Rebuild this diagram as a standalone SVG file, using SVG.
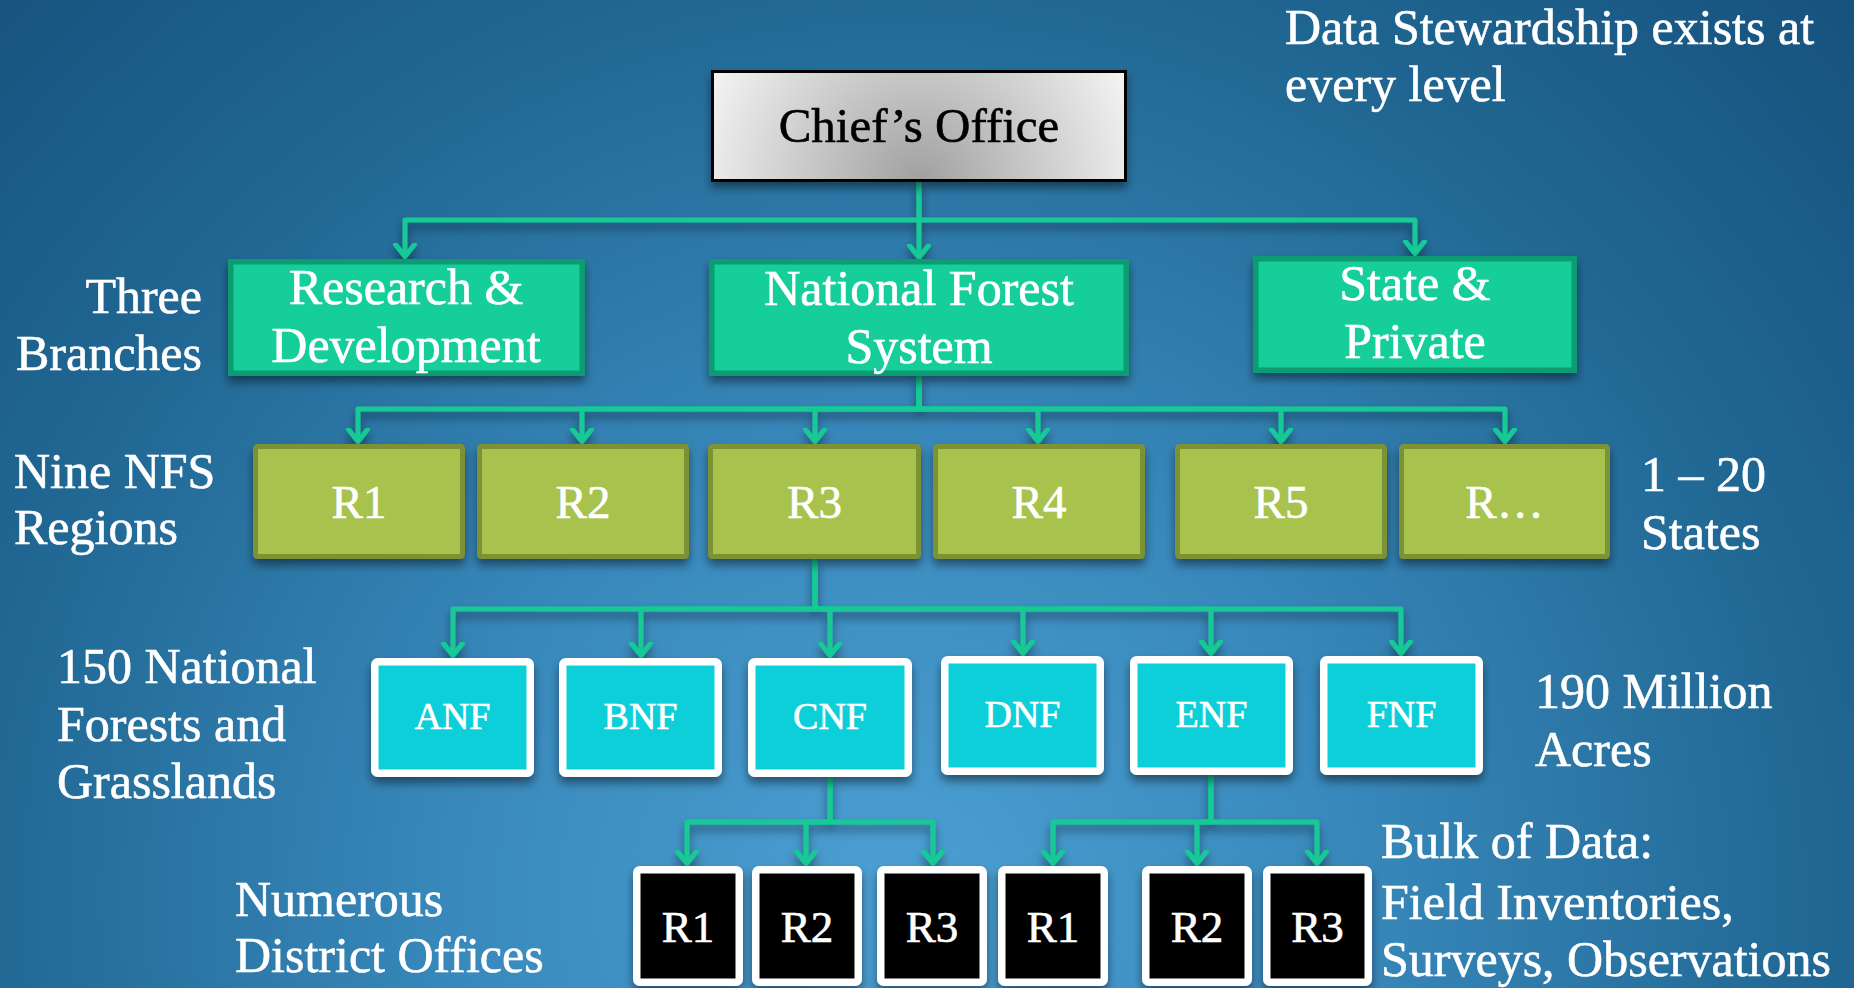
<svg xmlns="http://www.w3.org/2000/svg" width="1854" height="988" viewBox="0 0 1854 988">
<defs>
<radialGradient id="bg" gradientUnits="userSpaceOnUse" cx="900" cy="900" r="1300">
<stop offset="0" stop-color="#4CA0D3"/>
<stop offset="0.35" stop-color="#3888BB"/>
<stop offset="0.7" stop-color="#216894"/>
<stop offset="1" stop-color="#17527E"/>
</radialGradient>
<radialGradient id="chiefFill" gradientUnits="userSpaceOnUse" cx="919" cy="182" r="235">
<stop offset="0" stop-color="#A0A0A0"/>
<stop offset="1" stop-color="#F5F5F5"/>
</radialGradient>
<filter id="sh" x="-20%" y="-20%" width="140%" height="160%">
<feDropShadow dx="0" dy="6" stdDeviation="5" flood-color="#000" flood-opacity="0.45"/>
</filter>
<marker id="ah" markerUnits="userSpaceOnUse" viewBox="-14 -14 28 28" markerWidth="28" markerHeight="28" refX="0" refY="0" orient="auto">
<path d="M-12,-9.5 L0,0 L-12,9.5" fill="none" stroke="#13C995" stroke-width="5" stroke-linecap="round" stroke-linejoin="round"/>
</marker>
<style>
.conn{fill:none;stroke:#13C995;stroke-width:5;stroke-linejoin:round;marker-end:url(#ah)}
.t{font-family:"Liberation Serif","Times New Roman",serif;fill:#fff;stroke:#fff;stroke-width:0.6;font-size:50px}
.c{text-anchor:middle}
.box{filter:url(#sh)}
.br{fill:#12CE9A;stroke:#0E9C72;stroke-width:5.5}
.rg{fill:#A8C34E;stroke:#7D9236;stroke-width:5}
.nf{fill:#0DCFD9;stroke:#fff;stroke-width:7.5}
.ds{fill:#000;stroke:#fff;stroke-width:7.5}
.rt{font-size:47px}
.nt{font-size:38px}
.dt{font-size:45px}
.ct{fill:#000;stroke:#000;font-size:49px}
</style>
</defs>
<rect x="0" y="0" width="1854" height="988" fill="url(#bg)"/>

<g id="connectors" filter="url(#sh)">
<path class="conn" d="M919,182 V220 H405 V256.5"/>
<path class="conn" d="M919,182 V257.5"/>
<path class="conn" d="M919,220 H1415 V253.5"/>
<path class="conn" d="M919,376 V409 H358 V441.5"/>
<path class="conn" d="M919,376 V409 H582 V441.5"/>
<path class="conn" d="M919,376 V409 H815 V441.5"/>
<path class="conn" d="M919,376 V409 H1038 V441.5"/>
<path class="conn" d="M919,376 V409 H1281 V441.5"/>
<path class="conn" d="M919,376 V409 H1505 V441.5"/>
<path class="conn" d="M815,559 V609 H453 V655.5"/>
<path class="conn" d="M815,559 V609 H641 V655.5"/>
<path class="conn" d="M815,559 V609 H830 V655.5"/>
<path class="conn" d="M815,559 V609 H1023 V653.5"/>
<path class="conn" d="M815,559 V609 H1211 V653.5"/>
<path class="conn" d="M815,559 V609 H1401 V653.5"/>
<path class="conn" d="M830,777 V822 H687 V863.5"/>
<path class="conn" d="M830,777 V822 H806 V863.5"/>
<path class="conn" d="M830,777 V822 H933 V863.5"/>
<path class="conn" d="M1211,775 V822 H1053 V863.5"/>
<path class="conn" d="M1211,775 V822 H1197 V863.5"/>
<path class="conn" d="M1211,775 V822 H1317 V863.5"/>
</g>

<g id="chief">
<rect class="box" x="712.5" y="71.5" width="413" height="109" fill="url(#chiefFill)" stroke="#000" stroke-width="3"/>
<text class="t c ct" x="919" y="142">Chief’s Office</text>
</g>

<g id="rd">
<rect class="box br" x="230.75" y="261.75" width="351.5" height="111.5"/>
<text class="t c" x="406" y="304">Research &amp;</text>
<text class="t c" x="406" y="362">Development</text>
</g>
<g id="nfs">
<rect class="box br" x="711.75" y="261.75" width="414.5" height="111.5"/>
<text class="t c" x="919" y="305">National Forest</text>
<text class="t c" x="919" y="363">System</text>
</g>
<g id="sp">
<rect class="box br" x="1255.75" y="258.75" width="318.5" height="111.5"/>
<text class="t c" x="1415" y="300">State &amp;</text>
<text class="t c" x="1415" y="358">Private</text>
</g>

<g id="reg-r1"><rect class="box rg" x="255.5" y="446.5" width="207" height="110" rx="2"/><text class="t c rt" x="359" y="518">R1</text></g>
<g id="reg-r2"><rect class="box rg" x="479.5" y="446.5" width="207" height="110" rx="2"/><text class="t c rt" x="583" y="518">R2</text></g>
<g id="reg-r3"><rect class="box rg" x="710.5" y="446.5" width="208" height="110" rx="2"/><text class="t c rt" x="814.5" y="518">R3</text></g>
<g id="reg-r4"><rect class="box rg" x="935.5" y="446.5" width="207" height="110" rx="2"/><text class="t c rt" x="1039" y="518">R4</text></g>
<g id="reg-r5"><rect class="box rg" x="1177.5" y="446.5" width="207" height="110" rx="2"/><text class="t c rt" x="1281" y="518">R5</text></g>
<g id="reg-rn"><rect class="box rg" x="1401.5" y="446.5" width="206" height="110" rx="2"/><text class="t c rt" x="1504.5" y="518">R…</text></g>

<g id="anf"><rect class="box nf" x="374.75" y="661.75" width="155.5" height="111.5" rx="3"/><text class="t c nt" x="452.5" y="729">ANF</text></g>
<g id="bnf"><rect class="box nf" x="562.75" y="661.75" width="155.5" height="111.5" rx="3"/><text class="t c nt" x="640.5" y="729">BNF</text></g>
<g id="cnf"><rect class="box nf" x="751.75" y="661.75" width="156.5" height="111.5" rx="3"/><text class="t c nt" x="830" y="729">CNF</text></g>
<g id="dnf"><rect class="box nf" x="944.75" y="659.75" width="155.5" height="111.5" rx="3"/><text class="t c nt" x="1022.5" y="727">DNF</text></g>
<g id="enf"><rect class="box nf" x="1133.75" y="659.75" width="155.5" height="111.5" rx="3"/><text class="t c nt" x="1211.5" y="727">ENF</text></g>
<g id="fnf"><rect class="box nf" x="1323.75" y="659.75" width="155.5" height="111.5" rx="3"/><text class="t c nt" x="1401.5" y="727">FNF</text></g>

<g id="c-r1"><rect class="box ds" x="636.75" y="869.75" width="102.5" height="112.5" rx="3"/><text class="t c dt" x="688" y="942">R1</text></g>
<g id="c-r2"><rect class="box ds" x="755.75" y="869.75" width="102.5" height="112.5" rx="3"/><text class="t c dt" x="807" y="942">R2</text></g>
<g id="c-r3"><rect class="box ds" x="880.75" y="869.75" width="102.5" height="112.5" rx="3"/><text class="t c dt" x="932" y="942">R3</text></g>
<g id="e-r1"><rect class="box ds" x="1001.75" y="869.75" width="102.5" height="112.5" rx="3"/><text class="t c dt" x="1053" y="942">R1</text></g>
<g id="e-r2"><rect class="box ds" x="1145.75" y="869.75" width="102.5" height="112.5" rx="3"/><text class="t c dt" x="1197" y="942">R2</text></g>
<g id="e-r3"><rect class="box ds" x="1266.75" y="869.75" width="101.5" height="112.5" rx="3"/><text class="t c dt" x="1317.5" y="942">R3</text></g>

<g id="labels">
<text class="t" x="1285" y="44">Data Stewardship exists at</text>
<text class="t" x="1285" y="101">every level</text>
<text class="t" x="202" y="313" text-anchor="end">Three</text>
<text class="t" x="202" y="370" text-anchor="end">Branches</text>
<text class="t" x="14" y="488">Nine NFS</text>
<text class="t" x="14" y="544">Regions</text>
<text class="t" x="1641" y="491">1 – 20</text>
<text class="t" x="1641" y="549">States</text>
<text class="t" x="57" y="683">150 National</text>
<text class="t" x="57" y="741">Forests and</text>
<text class="t" x="57" y="798">Grasslands</text>
<text class="t" x="1535" y="708">190 Million</text>
<text class="t" x="1535" y="766">Acres</text>
<text class="t" x="235" y="916">Numerous</text>
<text class="t" x="235" y="972">District Offices</text>
<text class="t" x="1381" y="858">Bulk of Data:</text>
<text class="t" x="1381" y="919">Field Inventories,</text>
<text class="t" x="1381" y="976">Surveys, Observations</text>
</g>
</svg>
